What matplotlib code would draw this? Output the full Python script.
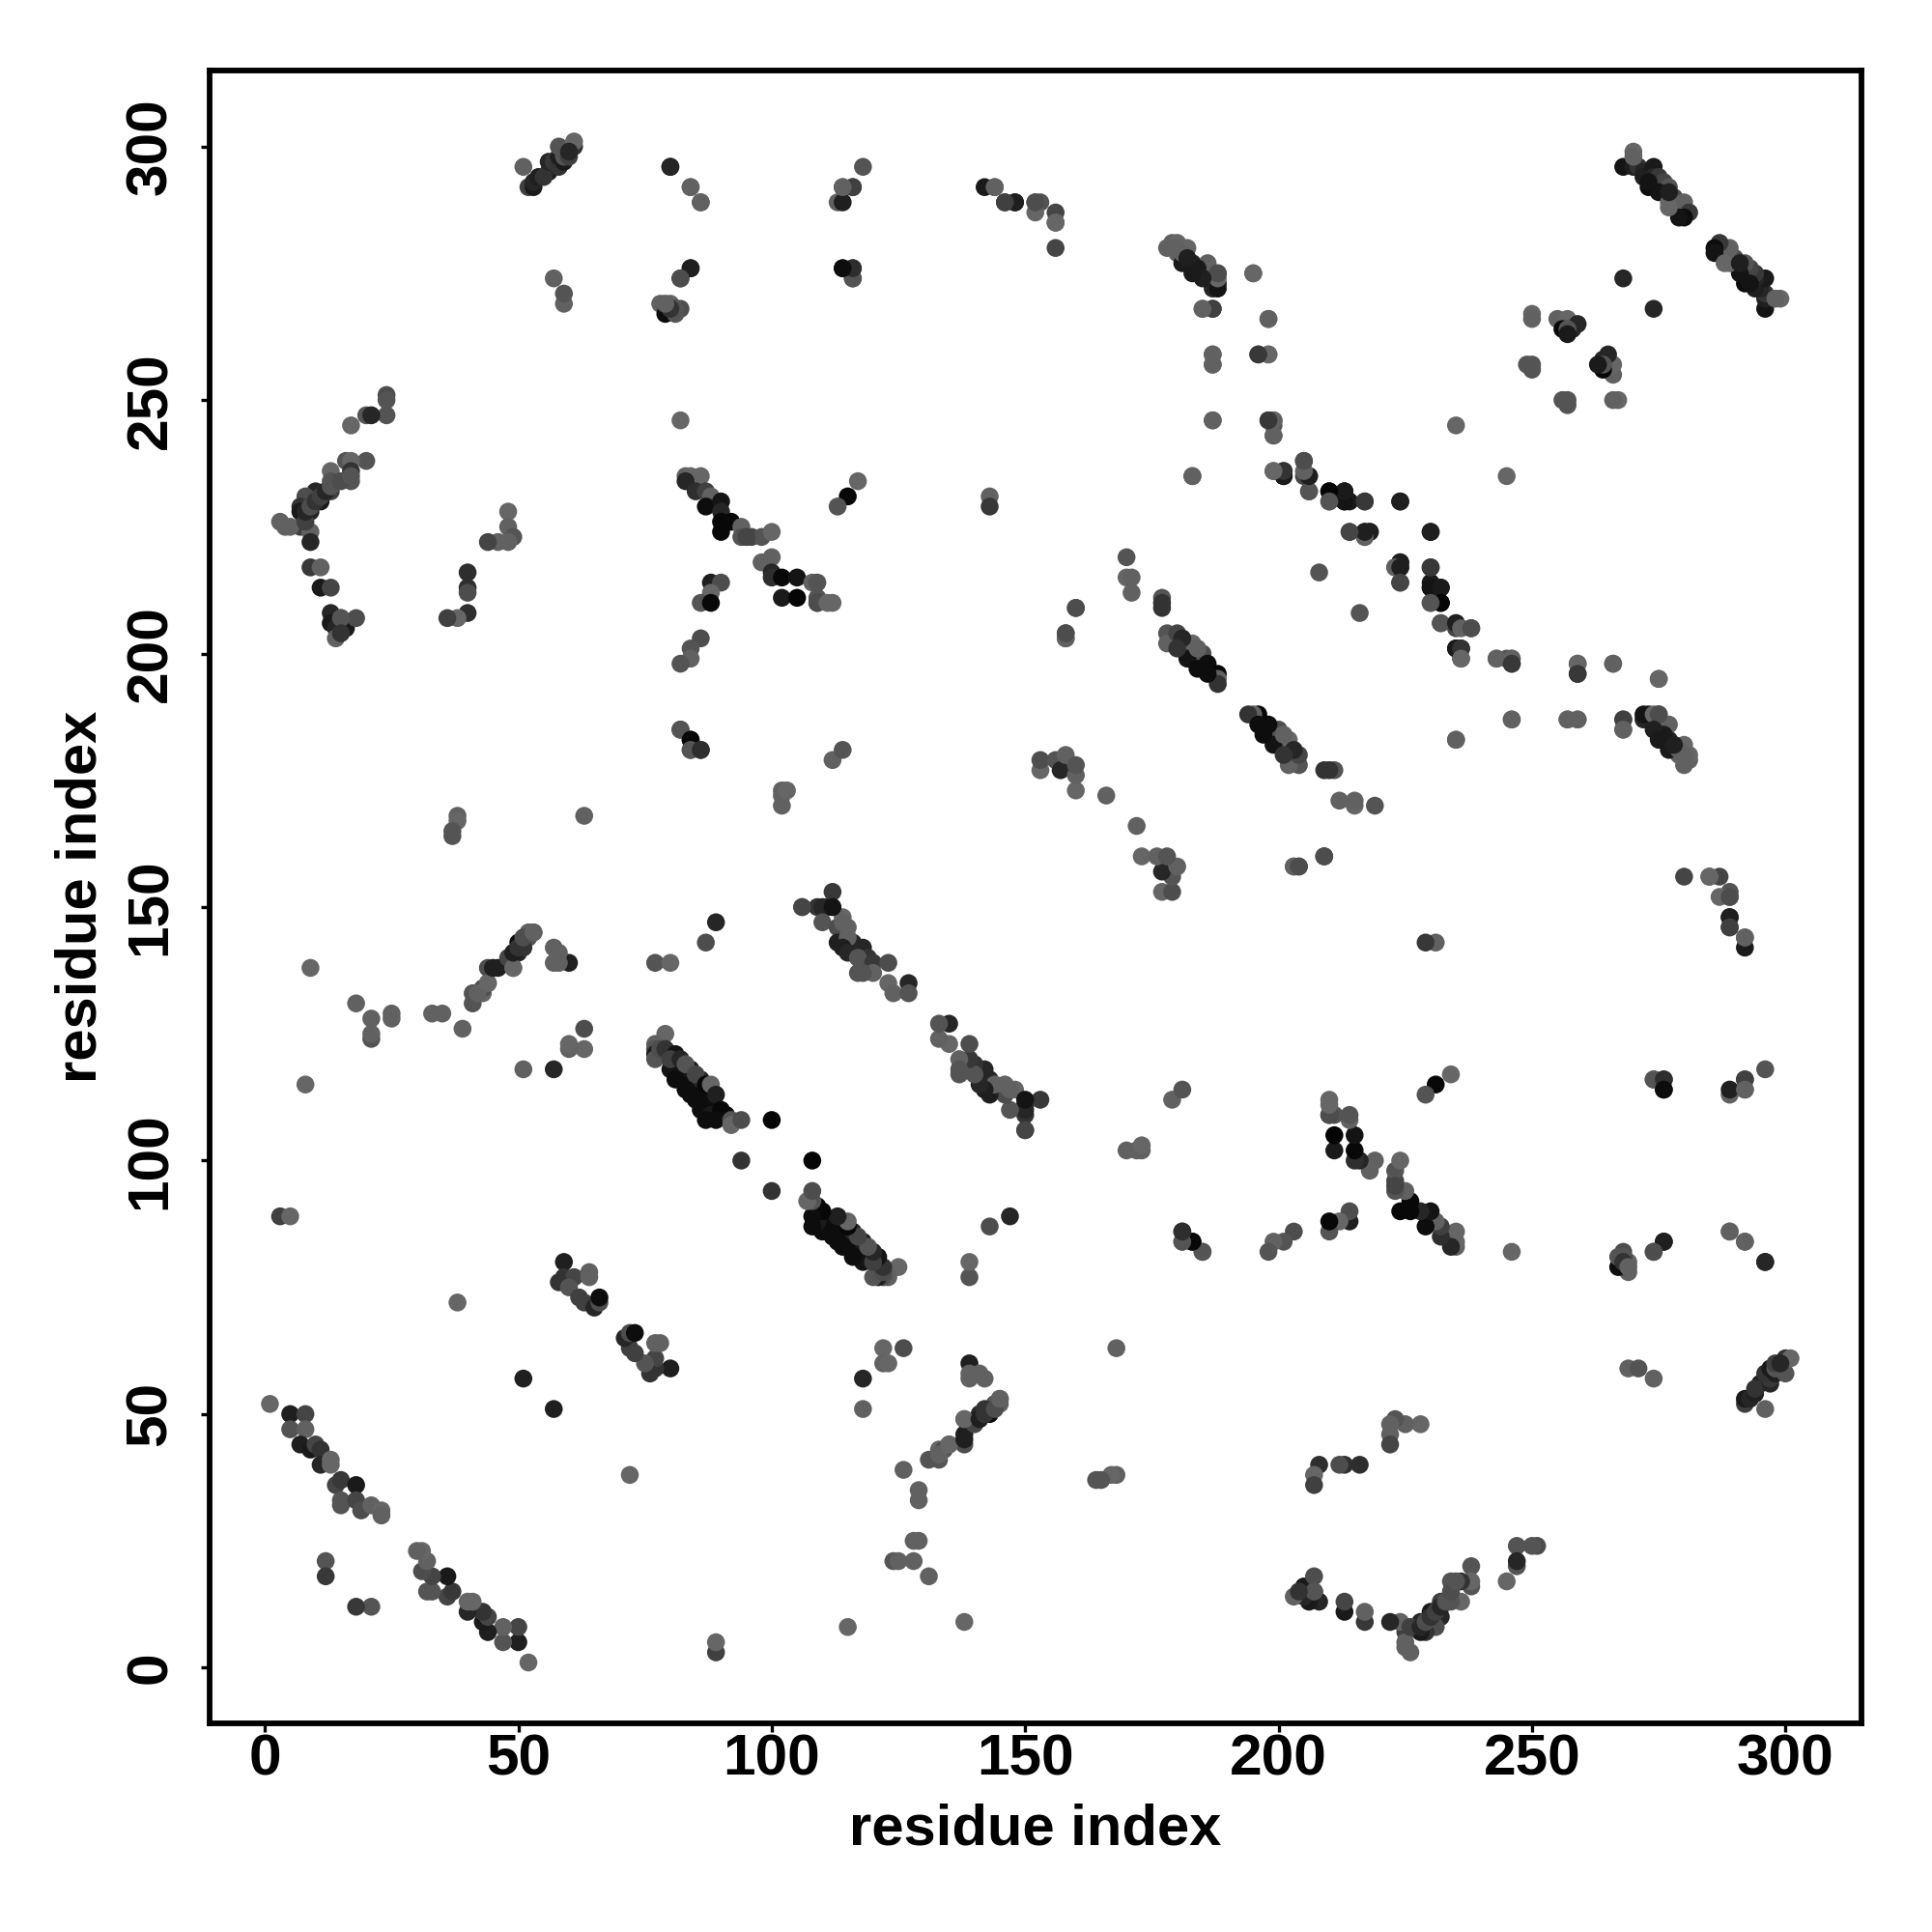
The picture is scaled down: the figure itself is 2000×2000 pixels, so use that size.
import matplotlib
matplotlib.use("Agg")
import matplotlib.pyplot as plt

# Contacts as (residue_i, residue_j, grey percent); the map shows each one mirrored.
strand_a = [(1,52,40),(5,50,12),(8,50,27),(5,47,33),(8,47,38),(7,44,12),(9,43,10),(10,44,27),(11,43,20),(11,40,15),
            (13,41,40),(13,40,40),(14,36,27),(15,37,22),(18,36,10),(15,32,33),(15,33,33),(18,33,27),(19,31,30),(21,32,38),
            (23,31,40),(23,30,38),(12,21,33),(12,18,22)]
strand_b = [(59,80,12),(59,77,20),(61,77,27),(64,78,38),(64,77,38),(58,76,20),(60,75,33),(62,73,25),(63,72,25),(65,71,15),
            (66,72,30),(66,73,5),(3,89,25),(5,89,40),(38,72,40),(51,57,12),(94,100,20),(100,108,2)]
strand_c = [(82,117,5),(84,115,5),(86,113,5),(88,111,5),(86,110,5),(88,109,10),(91,109,5),(84,113,5),
            (79,125,40),(77,123,38),(77,122,33),(77,121,12),(77,120,33),(78,122,30),(79,122,20),(81,121,8),(80,118,8),
            (80,120,25),(82,120,15),(84,118,10),(86,116,15),
            (83,119,33),(81,116,5),(85,117,27),(83,114,5),(87,115,3),(88,115,40),(89,113,12),(85,112,5),(90,110,3),
            (87,108,5),(89,108,5),(92,108,33),(92,107,40),(94,108,30)]
strand_d = [(106,150,33),(109,150,20),(110,150,15),(111,150,15),(112,153,22),(110,147,33),(113,146,30),(114,148,40),(114,147,38),
            (115,146,38),(116,143,15),(113,143,12),(115,144,38),(114,142,12),(115,141,15),(118,142,15),(119,140,20),(117,140,33),
            (117,137,33),(120,139,22),(123,139,30),
            (120,137,38),(118,137,33),(123,135,40),(124,133,38),(127,135,15),(127,133,33),(112,150,8),(106,150,27)]
sheet_e = [(153,177,40),(153,179,30),(156,179,33),(157,177,15),(158,180,38),(160,173,40),(160,176,38),(160,178,33),
           (166,172,38),(112,179,38),(114,181,33),(102,170,38),(102,172,38),(102,173,38),(103,173,40),(87,143,30),(89,147,15),
           (77,139,33),(80,139,40),(86,181,18),(84,181,30),(84,183,5),(82,185,30),(63,122,40),(63,126,30),(60,122,38),
           (60,123,40),(57,118,15),(51,118,38)]
sheet_f = [(60,139,12),(58,139,38),(58,141,38),(57,142,38),(57,139,38),(49,138,33),(46,138,12),(44,138,30),(50,141,15),
           (48,140,27),(50,143,5),(52,144,33),(53,145,33),(51,142,20),(44,135,38),(43,133,40),(41,131,33),(41,133,33),
           (43,134,30),(39,126,38),(9,138,40),(8,115,40),(18,131,38),(21,128,38),(21,124,33),(21,125,38),(25,129,38),
           (25,128,38),(33,129,38),(35,129,38)]
arc_h = [(24,251,30),(24,250,33),(24,247,33),(20,247,33),(21,247,15),(17,245,40),(20,238,33),(16,238,33),(17,238,40),
         (17,236,20),(17,234,33),(13,236,40),(13,234,33),(13,232,25),(10,232,15),(11,230,10),(8,231,30),(9,228,15),
         (7,229,20),(7,228,10),(7,225,25),(3,226,38),(4,225,38),(9,224,38),(9,222,15),(9,217,22),(11,217,38),(11,213,10),
         (13,213,27),(13,208,15),(13,206,10),(14,205,15),(16,205,10),(15,207,10),(14,203,38),(18,207,30)]
arc_i = [(48,228,40),(48,225,38),(49,223,33),(48,222,38),(46,222,38),(44,222,27),(40,216,18),(40,213,18),(40,212,30),
         (40,208,18),(38,207,40),(36,207,25),(38,168,38),(38,167,40),(37,165,33),(37,164,33),(63,168,38)]
cross_j = [(82,246,40),(83,235,38),(84,235,40),(86,235,40),(83,234,15),(85,232,18),(87,232,25),(88,231,38),(87,229,5),
           (90,230,8),(90,228,15),(92,226,3),(90,226,3),(90,224,3),(94,225,38),(94,223,33),(96,223,27),(98,223,33),
           (100,224,40),(98,218,38),(100,219,38),(100,216,15),(100,215,18),(102,215,3),(105,215,8),(108,214,38),
           (109,214,33),(102,211,10),(105,211,2),(109,211,33),(109,210,15),(112,210,40),(88,214,12),(90,214,30),(88,212,40),
           (86,210,33),(88,210,3),(86,203,30),(84,201,33),(84,199,38),(82,198,33),(82,185,33),(84,183,3),(84,181,33),
           (86,181,18),(95,223,27),(109,210,30),(111,210,40)]
top_k = [(80,296,10),(84,292,38),(86,289,40),(118,296,33),(114,292,33),(116,292,22),(113,289,38),(114,289,12),(142,292,10),
         (144,292,33),(146,289,22),(148,289,10),(152,289,30),(153,289,33),(152,287,40),(156,287,27),(156,285,38),(156,280,27),
         (84,276,3),(82,274,27),(114,276,8),(116,276,18),(116,274,30),(78,269,38),(79,268,33),(80,269,40),(79,267,5),
         (81,268,15),(82,268,30),(81,267,33),(143,231,38),(143,229,22),(117,234,40),(115,231,3),(113,229,33)]
top_l = [(179,281,38),(180,279,38),(180,281,40),(182,280,40),(183,277,15),(186,277,38),(184,276,10),(188,275,27),(188,273,10),
         (187,272,15),(185,268,38),(187,268,27),(187,259,40),(187,257,40),(187,246,40),(183,235,38),(170,219,33),(170,215,40),
         (171,215,38),(171,212,38),(177,211,33),(177,209,20),(160,209,25),(158,204,25),(158,203,33)]
strand_m = [(178,204,33),(178,202,38),(180,204,27),(181,202,12),(183,202,40),(185,200,30),(182,199,8),(184,197,5),(186,198,5),
            (188,196,3),(188,195,38),(188,194,20),(186,196,5),(181,203,15),(184,201,38),(180,201,20)]
strand_n = [(195,275,40),(198,266,38),(196,259,27),(198,259,38),(198,246,22),(199,246,33),(199,245,33),(199,243,40),(199,236,38),
            (201,236,18),(201,235,8),(205,238,27),(205,235,27),(206,235,10),(206,232,33),(210,232,5),(210,230,33),(213,232,12),
            (213,230,10),(214,230,10),(217,230,20),(224,230,8),(214,224,27),(217,224,15),(218,224,10),(217,223,40),
            (208,216,33),(224,218,12),(223,217,38),(224,217,12),(224,214,27),(230,217,22),(230,224,12),(230,213,8),(232,213,10),
            (232,210,2),(230,210,33),(232,206,33),(235,206,12),(236,205,38),(238,205,30),(235,201,10),(236,201,20),(236,199,40),
            (243,199,38),(246,199,38),(246,198,22),(259,198,40),(259,196,22),(266,198,38),(195,275,40),(235,245,40),(235,183,38),
            (246,187,38),(257,187,38),(259,187,38),(268,187,25),(268,185,38)]
hairpin_o = [(250,267,40),(250,266,38),(255,266,38),(257,266,40),(259,265,15),(258,264,15),(256,264,3),(257,264,33),(257,263,10),
             (249,257,33),(250,256,33),(250,257,33),(268,274,15)]
strand_p = [(268,296,8),(270,296,12),(271,296,20),(272,295,15),(272,294,12),(270,299,40),(274,296,10),(274,294,15),(275,294,22),
            (276,293,27),(277,292,33),(273,292,5),(275,291,8),(278,290,30),(279,287,8),(278,288,12),
            (277,289,40),(280,289,38),(281,287,22),(280,286,5),(279,286,8),(277,288,40),(277,291,12),(273,293,8),
            (270,298,38)]
strand_q = [(181,277,10),(188,272,8),(188,274,40),(188,275,30),(185,274,12),(183,275,10),(180,280,38),
            (181,279,38),(182,278,12),(178,280,38)]
strand_r = [(177,210,20),(160,209,30),(158,203,38),(158,204,30),(156,285,40),(152,289,30),(148,289,12),(146,289,25),
            (144,292,38),(116,274,33),(116,276,18),(114,276,5),(116,292,25),(114,292,38)]
bottom_s = [(86,289,38),(84,292,38),(80,296,15),(84,276,12),(82,274,30),(81,268,33),(80,268,20),(79,269,38),
            (59,269,38),(59,271,33),(57,274,38)]
top_t = [(51,296,38),(52,292,25),(53,292,10),(53,293,15),(54,294,12),(56,295,12),(55,294,20),(56,297,15),(57,297,22),(58,296,20),
         (58,298,12),(59,297,10),(59,298,33),(58,300,33),(60,298,25),(61,300,20),(61,301,40),(60,299,15)]
bottom_u = [(15,207,33),(15,204,20),(5,225,38),(8,226,25),(8,228,15),(9,229,30),(10,230,20),(11,231,25),(12,232,15),
            (13,233,33),(15,234,30),(17,235,33)]
chain_w = [(42,133,38),(44,135,40),(45,138,12),(49,138,40),(49,141,12),(50,142,20),(52,145,38),(51,144,30),(53,145,38)]

all_groups = [strand_a, strand_b, strand_c, strand_d, sheet_e, sheet_f, arc_h, arc_i, cross_j, top_k, top_l, strand_m,
              strand_n, hairpin_o, strand_p, strand_q, strand_r, bottom_s, top_t, bottom_u, chain_w]

tick_values = [0, 50, 100, 150, 200, 250, 300]
axis_label = "residue index"

fig = plt.figure(figsize=(20, 20), dpi=100, facecolor="white")
ax = fig.add_axes([217/2000, 1 - 1784/2000, (1927-217)/2000, (1784-73)/2000])

for group in all_groups:
    for i, j, grey in group:
        g = str(grey / 100)
        ax.scatter([i], [j], s=178, c=g, edgecolors="none", zorder=3)
        ax.scatter([j], [i], s=178, c=g, edgecolors="none", zorder=3)

ax.set_xlim(-10.9, 315.0)
ax.set_ylim(-11.0, 315.0)
font = dict(family="Liberation Sans", weight="bold")
ax.set_xticks(tick_values)
ax.set_yticks(tick_values)
ax.set_xticklabels([str(v) for v in tick_values], fontsize=43.5, **font)
ax.set_yticklabels([str(v) for v in tick_values], fontsize=43.5, rotation=90, va="center", **font)
ax.tick_params(axis="both", length=6.7, width=2.4, direction="out")
ax.tick_params(axis="x", pad=1)
ax.tick_params(axis="y", pad=17)
for sp in ax.spines.values():
    sp.set_linewidth(4.2)
ax.set_xlabel(axis_label, fontsize=43, labelpad=12, **font)
ax.set_ylabel(axis_label, fontsize=43, labelpad=13, **font)
fig.savefig("out.png", dpi=100)
